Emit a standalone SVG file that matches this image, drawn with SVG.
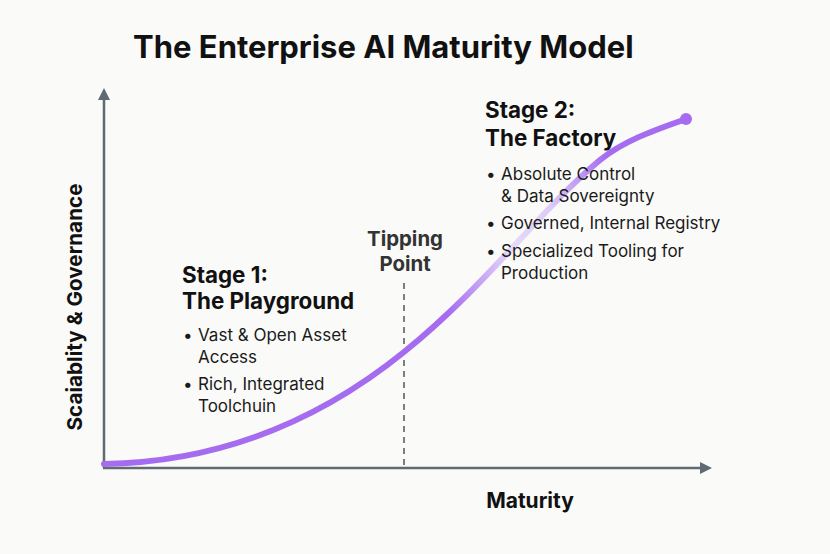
<svg xmlns="http://www.w3.org/2000/svg" width="830" height="554" viewBox="0 0 830 554">
<style>
.t{font-family:Inter,"Liberation Sans",sans-serif;fill:#111}
.h{font-weight:700;font-size:22.4px}
.b{font-size:17px;fill:#1a1a1a}
.ax{stroke:#5f6a72;stroke-width:2.5;fill:none}
</style>
<defs>
<marker id="ah" viewBox="0 0 12 12" refX="2" refY="6" markerWidth="12" markerHeight="12" markerUnits="userSpaceOnUse" orient="auto">
<path d="M0,0 L12,6 L0,12 z" fill="#5f6a72"/>
</marker>
<linearGradient id="cg" gradientUnits="userSpaceOnUse" x1="104" y1="464" x2="686" y2="119">
<stop offset="0" stop-color="#a66cf0"/>
<stop offset="0.55" stop-color="#a66cf0"/>
<stop offset="0.68" stop-color="#e6daf9"/>
<stop offset="0.76" stop-color="#ddccf7"/>
<stop offset="0.87" stop-color="#a66cf0"/>
<stop offset="1" stop-color="#a66cf0"/>
</linearGradient>
</defs>
<rect width="830" height="554" fill="#fafaf9"/>
<text id="title" class="t" x="133" y="58" font-size="31" font-weight="700">The Enterprise AI Maturity Model</text>
<g id="connectors">
<path class="ax" d="M104,468 V98" marker-end="url(#ah)"/>
<path class="ax" d="M103,468 H702" marker-end="url(#ah)"/>
<line x1="404" y1="283" x2="404" y2="466" stroke="#555" stroke-width="1.5" stroke-dasharray="6,5"/>
<path d="M104,464 C220,462 320,420 404,352 C488,284 540,210 600,160 C625,140 655,130 686,119" fill="none" stroke="url(#cg)" stroke-width="6" stroke-linecap="round"/>
<circle cx="686" cy="119" r="6" fill="#a66cf0"/>
</g>
<g id="ylabel"><text class="t" font-size="20.7" font-weight="700" text-anchor="middle" transform="translate(82,307) rotate(-90)">Scaiablity &amp; Governance</text></g>
<g id="xlabel"><text class="t" x="530" y="508" font-size="21" font-weight="700" text-anchor="middle">Maturity</text></g>
<g id="tipping">
<text class="t" x="405" y="246" font-size="20.4" font-weight="700" text-anchor="middle" style="fill:#333">Tipping</text>
<text class="t" x="405" y="271" font-size="20.4" font-weight="700" text-anchor="middle" style="fill:#333">Point</text>
</g>
<g id="stage1">
<text class="t h" x="182" y="283">Stage 1:</text>
<text class="t h" x="182" y="309">The Playground</text>
<text class="t b" x="183" y="341">•</text>
<text class="t b" x="198" y="341">Vast &amp; Open Asset</text>
<text class="t b" x="198" y="363">Access</text>
<text class="t b" x="183" y="390">•</text>
<text class="t b" x="198" y="390">Rich, Integrated</text>
<text class="t b" x="198" y="412">Toolchuin</text>
</g>
<g id="stage2">
<text class="t h" x="485" y="118">Stage 2:</text>
<text class="t h" x="485" y="146">The Factory</text>
<text class="t b" x="486" y="180">•</text>
<text class="t b" x="501" y="180">Absolute Control</text>
<text class="t b" x="501" y="202">&amp; Data Sovereignty</text>
<text class="t b" x="486" y="229">•</text>
<text class="t b" x="501" y="229">Governed, Internal Registry</text>
<text class="t b" x="486" y="257">•</text>
<text class="t b" x="501" y="257">Specialized Tooling for</text>
<text class="t b" x="501" y="279">Production</text>
</g>
</svg>
